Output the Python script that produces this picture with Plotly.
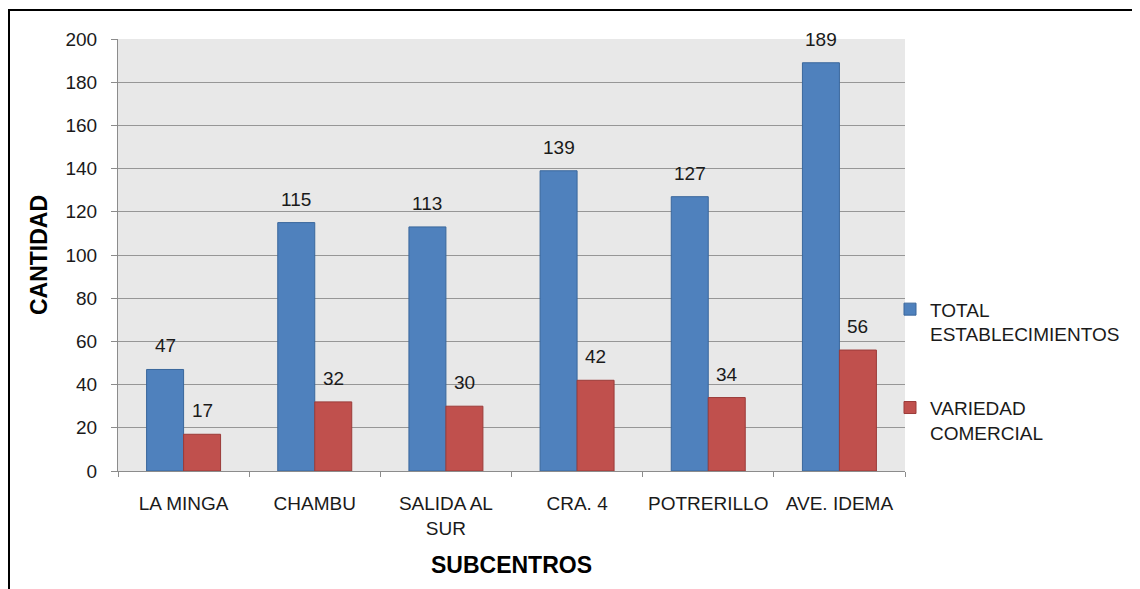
import plotly.graph_objects as go

subcentros = ["LA MINGA", "CHAMBU", "SALIDA AL<br>SUR", "CRA. 4", "POTRERILLO", "AVE. IDEMA"]
total_establecimientos = [47, 115, 113, 139, 127, 189]
variedad_comercial = [17, 32, 30, 42, 34, 56]
y_ticks = [0, 20, 40, 60, 80, 100, 120, 140, 160, 180, 200]

# the page body has an 8px margin, so the figure is drawn 8px smaller
W, H = 1132, 581
L, R, T, B = 110, 235, 31, 118
plot_w = W - L - R
plot_h = H - T - B
bargap = 0.436
bar_px = plot_w / len(subcentros) * (1 - bargap) / 2

font = "Liberation Sans, Arial, sans-serif"
txt_color = "#1a1a1a"

fig = go.Figure()
fig.add_trace(go.Bar(
    x=subcentros, y=total_establecimientos, name="TOTAL<br>ESTABLECIMIENTOS",
    marker=dict(color="#4f81bd", line=dict(color="#3a679c", width=1)),
    legendgroup="a",
))
fig.add_trace(go.Bar(
    x=subcentros, y=variedad_comercial, name="VARIEDAD<br>COMERCIAL",
    marker=dict(color="#c0504d", line=dict(color="#9b3b39", width=1)),
    legendgroup="b",
))

# data labels above the bars
annotations = []
for vals, shift in [(total_establecimientos, -bar_px / 2), (variedad_comercial, bar_px / 2)]:
    for cat, v in zip(subcentros, vals):
        annotations.append(dict(
            x=cat, y=v, text=str(v), showarrow=False,
            xshift=shift, yshift=11, yanchor="bottom",
            font=dict(family=font, size=19, color=txt_color),
        ))

fig.update_layout(
    width=W, height=H,
    margin=dict(l=L, r=R, t=T, b=B, autoexpand=False),
    paper_bgcolor="white",
    plot_bgcolor="#e8e8e8",
    barmode="group",
    bargap=bargap,
    bargroupgap=0,
    font=dict(family=font, size=19, color=txt_color),
    annotations=annotations,
    legend=dict(
        x=(882 - L) / plot_w, xanchor="left", y=0.232, yanchor="middle",
        font=dict(family=font, size=19, color=txt_color),
        traceorder="grouped", tracegroupgap=46,
        valign="top", itemwidth=30, bgcolor="rgba(0,0,0,0)",
    ),
    shapes=[dict(
        type="rect", xref="paper", yref="paper",
        x0=(1 - L) / plot_w, x1=1.5, y0=-0.6, y1=(H - B - 2) / plot_h,
        line=dict(color="black", width=2), layer="below",
    )],
)

fig.update_yaxes(
    range=[0, 200], tickvals=y_ticks, showgrid=True, gridcolor="#969696", gridwidth=1,
    showline=True, linecolor="#8c8c8c", ticks="outside", ticklen=6, tickcolor="#8c8c8c",
    ticklabelstandoff=10, zeroline=False, automargin=False,
    title=dict(text="<b>CANTIDAD</b>", font=dict(family=font, size=23, color="black"), standoff=11),
)
fig.update_xaxes(
    showline=True, linecolor="#8c8c8c", ticks="outside", ticklen=5, tickcolor="#8c8c8c",
    tickson="boundaries", ticklabelstandoff=15, tickangle=0, automargin=False,
    title=dict(text="<b>SUBCENTROS</b>", font=dict(family=font, size=23, color="black"), standoff=19),
)

fig.write_html("out.html")
